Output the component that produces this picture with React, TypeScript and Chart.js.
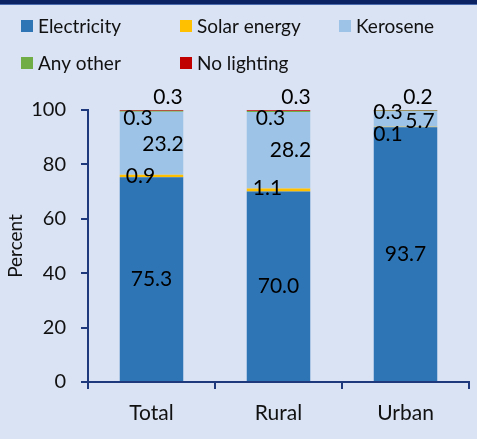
import React, { useEffect, useRef } from "react";
import { Chart, registerables } from "chart.js";

Chart.register(...registerables);

// ---- data ----
const categories = ["Total", "Rural", "Urban"];
const seriesNames = ["Electricity", "Solar energy", "Kerosene", "Any other", "No lighting"];
const electricity = [75.3, 70.0, 93.7];
const solarEnergy = [0.9, 1.1, 0.1];
const kerosene = [23.2, 28.2, 5.7];
const anyOther = [0.3, 0.3, 0.3];
const noLighting = [0.3, 0.3, 0.2];
const yTicks = [0, 20, 40, 60, 80, 100];
const yTitle = "Percent";

// ---- styles ----
const seriesColors = ["#2e75b6", "#ffc000", "#9dc3e6", "#70ad47", "#c00000"];
const navy = "#1f3a7c";
const bgColor = "#dae3f3";
const FONT = "Lato, 'Open Sans', sans-serif";
// manual label nudges (px) per series per category, like hand-moved Excel labels
const labelNudges = [
  [[0, 0], [0, 0], [0, 0]],
  [[-11, 0], [-11, -2], [-17.5, 7.5]],
  [[11.5, 1], [12, 0], [14.5, 2.5]],
  [[-13.5, 7], [-8, 7], [-17.5, 1.5]],
  [[16.5, -13], [17.5, -13], [12.5, -13]],
];

const frame = {
  id: "frame",
  beforeDraw(chart: any) {
    const { ctx, width } = chart;
    ctx.save();
    ctx.fillStyle = bgColor;
    ctx.fillRect(0, 0, width, chart.height);
    ctx.fillStyle = "#0b2362";
    ctx.fillRect(0, 0, width, 4);
    ctx.fillStyle = "#4a6cae";
    ctx.fillRect(0, 4, width, 1);
    ctx.restore();
  },
};

const customLegend = {
  id: "customLegend",
  afterDraw(chart: any) {
    const { ctx } = chart;
    ctx.save();
    ctx.font = `19px ${FONT}`;
    ctx.textBaseline = "middle";
    ctx.textAlign = "left";
    chart.data.datasets.forEach((ds: any, i: number) => {
      const col = i % 3;
      const row = Math.floor(i / 3);
      const bx = 21 + col * 159;
      const by = 20 + row * 37;
      ctx.fillStyle = ds.backgroundColor;
      ctx.fillRect(bx, by, 12, 12);
      ctx.fillStyle = "#111";
      ctx.fillText(ds.label, bx + 17, by + 6.5);
    });
    ctx.restore();
  },
};

const valueLabels = {
  id: "valueLabels",
  afterDatasetsDraw(chart: any) {
    const { ctx } = chart;
    ctx.save();
    ctx.font = `21px ${FONT}`;
    ctx.fillStyle = "#000";
    ctx.textAlign = "center";
    ctx.textBaseline = "middle";
    chart.data.datasets.forEach((ds: any, di: number) => {
      const meta = chart.getDatasetMeta(di);
      meta.data.forEach((el: any, i: number) => {
        const v = ds.data[i];
        const [dx, dy] = labelNudges[di][i];
        const cy = (el.y + el.base) / 2;
        ctx.fillText(v.toFixed(1), el.x + dx, cy + dy);
      });
    });
    ctx.restore();
  },
};

export default function App() {
  const ref = useRef<HTMLCanvasElement>(null);

  useEffect(() => {
    if (!ref.current) return;
    const seriesValues = [electricity, solarEnergy, kerosene, anyOther, noLighting];
    const chart = new Chart(ref.current, {
      type: "bar",
      data: {
        labels: categories,
        datasets: seriesValues.map((vals, i) => ({
          label: seriesNames[i],
          data: vals,
          backgroundColor: seriesColors[i],
          borderWidth: 0,
          barPercentage: 0.5,
          categoryPercentage: 1,
        })),
      },
      options: {
        responsive: false,
        animation: false,
        layout: { padding: { top: 110, right: 8, left: 0, bottom: 0 } },
        font: { family: FONT } as any,
        plugins: {
          legend: { display: false },
          tooltip: { enabled: false },
        },
        scales: {
          x: {
            stacked: true,
            grid: {
              drawOnChartArea: false,
              drawTicks: true,
              tickLength: 7,
              color: navy,
              lineWidth: 2,
              offset: true,
            },
            border: { color: navy, width: 2 },
            ticks: {
              color: "#111",
              font: { family: FONT, size: 21 },
              padding: 12,
            },
            afterFit(scale: any) {
              scale.height = 57;
            },
          },
          y: {
            stacked: true,
            min: 0,
            max: 100,
            afterBuildTicks(scale: any) {
              scale.ticks = yTicks.map((v) => ({ value: v }));
            },
            grid: {
              drawOnChartArea: false,
              drawTicks: true,
              tickLength: 7,
              color: navy,
              lineWidth: 2,
            },
            border: { color: navy, width: 2 },
            ticks: {
              color: "#111",
              font: { family: FONT, size: 20 },
              padding: 15,
            },
            title: {
              display: true,
              text: yTitle,
              color: "#111",
              font: { family: FONT, size: 19 },
              padding: { top: 4, bottom: 0 },
            },
            afterFit(scale: any) {
              scale.width = 88;
            },
          },
        },
      },
      plugins: [frame, customLegend, valueLabels],
    });
    return () => chart.destroy();
  }, []);

  return (
    <div style={{ position: "fixed", left: 0, top: 0, width: 477, height: 439, background: bgColor }}>
      <canvas ref={ref} width={477} height={439} style={{ display: "block" }} />
    </div>
  );
}
